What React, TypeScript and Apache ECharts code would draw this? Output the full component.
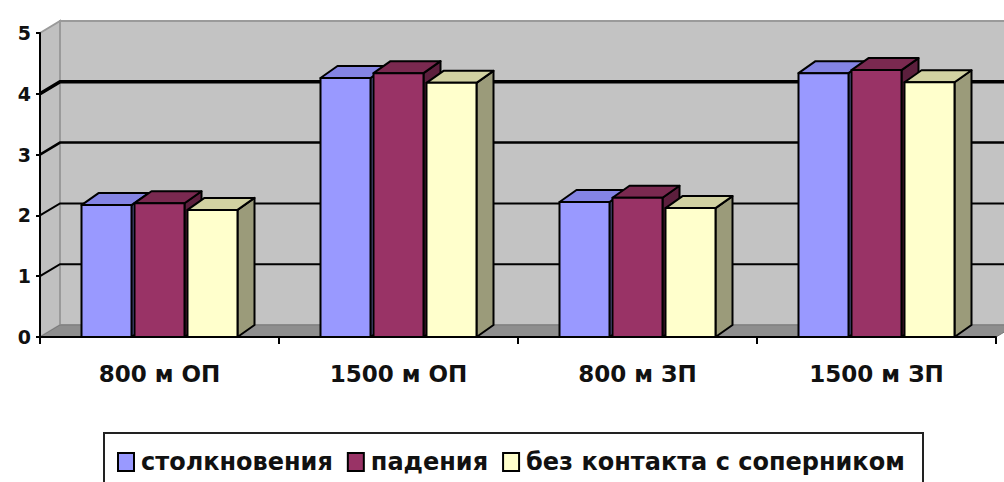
import React, { useEffect, useRef } from "react";
import * as echarts from "echarts";

const categories = ["800 м ОП", "1500 м ОП", "800 м ЗП", "1500 м ЗП"];
const seriesNames = ["столкновения", "падения", "без контакта с соперником"];
const collisions = [2.17, 4.26, 2.22, 4.34];
const falls = [2.2, 4.34, 2.29, 4.39];
const noContact = [2.09, 4.18, 2.12, 4.19];
const yTicks = [0, 1, 2, 3, 4, 5];

const faceColors = [
  { front: "#9999ff", top: "#8484e4", side: "#6b6bb3" },
  { front: "#993366", top: "#7a2950", side: "#5c1f3d" },
  { front: "#ffffcc", top: "#d2d2a2", side: "#9b9b7a" },
];

const WALL_DX = 20;
const WALL_DY = -12;
const BAR_DX = 17;
const BAR_DY = -12;
const FONT = "'DejaVu Sans', Verdana, sans-serif";

export default function App() {
  const ref = useRef<HTMLDivElement>(null);

  useEffect(() => {
    if (!ref.current) return;
    const chart = echarts.init(ref.current, null, { renderer: "svg" });
    const allValues = [collisions, falls, noContact];

    const wallSeries: any = {
      type: "custom",
      name: "_walls",
      silent: true,
      z: 1,
      data: [[0, 0]],
      renderItem: (params: any, api: any) => {
        const cs = params.coordSys;
        const x = cs.x, y = cs.y, w = cs.width, h = cs.height;
        const children: any[] = [];
        children.push({
          type: "rect",
          shape: { x: x + WALL_DX, y: y + WALL_DY, width: w, height: h },
          style: { fill: "#c3c3c3", stroke: "#9a9a9a", lineWidth: 2 },
        });
        children.push({
          type: "polygon",
          shape: {
            points: [
              [x, y],
              [x + WALL_DX, y + WALL_DY],
              [x + WALL_DX, y + h + WALL_DY],
              [x, y + h],
            ],
          },
          style: { fill: "#c0c0c0", stroke: "#9a9a9a", lineWidth: 2 },
        });
        children.push({
          type: "polygon",
          shape: {
            points: [
              [x, y + h],
              [x + WALL_DX, y + h + WALL_DY],
              [x + w + WALL_DX, y + h + WALL_DY],
              [x + w, y + h],
            ],
          },
          style: { fill: "#8e8e8e", stroke: "#7a7a7a", lineWidth: 1 },
        });
        const widths = [0, 2, 2, 2.5, 3.5];
        yTicks.forEach((t) => {
          if (t === 0 || t === 5) return;
          const p = api.coord([0, t]);
          const yy = p[1];
          children.push({
            type: "polyline",
            shape: {
              points: [
                [x, yy],
                [x + WALL_DX, yy + WALL_DY],
                [x + w + WALL_DX, yy + WALL_DY],
              ],
            },
            style: { fill: null, stroke: "#000", lineWidth: widths[t] },
          });
        });
        return { type: "group", children };
      },
    };

    const offsets = [-53, 0, 53];
    const barSeries = allValues.map((vals, si) => ({
      type: "custom",
      name: seriesNames[si],
      z: 2 + si,
      itemStyle: { color: faceColors[si].front, borderColor: "#000", borderWidth: 2 },
      data: vals.map((v, i) => [i, v]),
      encode: { x: 0, y: 1 },
      renderItem: (params: any, api: any) => {
        const cat = api.value(0);
        const val = api.value(1);
        const base = api.coord([cat, 0]);
        const top = api.coord([cat, val]);
        const bandW = api.size([1, 0])[0];
        const sc = bandW / 239;
        const bw = 50 * sc;
        const cx = base[0] + offsets[si] * sc;
        const x0 = cx - bw / 2;
        const x1 = cx + bw / 2;
        const yb = base[1];
        const yt = top[1];
        const c = faceColors[si];
        const stroke = { stroke: "#000", lineWidth: 2, lineJoin: "round" };
        return {
          type: "group",
          children: [
            {
              type: "polygon",
              shape: {
                points: [
                  [x1, yt],
                  [x1 + BAR_DX, yt + BAR_DY],
                  [x1 + BAR_DX, yb + BAR_DY],
                  [x1, yb],
                ],
              },
              style: { fill: c.side, ...stroke },
            },
            {
              type: "polygon",
              shape: {
                points: [
                  [x0, yt],
                  [x0 + BAR_DX, yt + BAR_DY],
                  [x1 + BAR_DX, yt + BAR_DY],
                  [x1, yt],
                ],
              },
              style: { fill: c.top, ...stroke },
            },
            {
              type: "rect",
              shape: { x: x0, y: yt, width: bw, height: yb - yt },
              style: { fill: c.front, ...stroke },
            },
          ],
        };
      },
    }));

    chart.setOption({
      animation: false,
      backgroundColor: "#ffffff",
      textStyle: { fontFamily: FONT },
      grid: { left: 40, right: 8, top: 33, bottom: 145, containLabel: false },
      xAxis: {
        type: "category",
        data: categories,
        z: 10,
        axisLine: { show: true, lineStyle: { color: "#000", width: 2 } },
        axisTick: { show: true, alignWithLabel: false, length: 7, lineStyle: { color: "#000", width: 2 } },
        axisLabel: {
          color: "#111",
          fontSize: 23,
          fontWeight: "bold",
          fontFamily: FONT,
          margin: 25,
        },
        splitLine: { show: false },
      },
      yAxis: {
        type: "value",
        min: 0,
        max: 5,
        interval: 1,
        z: 10,
        axisLine: { show: true, lineStyle: { color: "#000", width: 2 } },
        axisTick: { show: true, length: 4, lineStyle: { color: "#000", width: 2 } },
        axisLabel: {
          color: "#111",
          fontSize: 19,
          fontWeight: "bold",
          fontFamily: FONT,
          margin: 9,
        },
        splitLine: { show: false },
      },
      legend: {
        left: 112,
        top: 445,
        data: seriesNames,
        icon: "rect",
        itemWidth: 16,
        itemHeight: 18,
        itemGap: 14,
        textStyle: { color: "#111", fontSize: 24, fontWeight: "bold", fontFamily: FONT, padding: [0, 0, 0, 2] },
        itemStyle: { borderColor: "#000", borderWidth: 2 },
        selectedMode: false,
      },
      graphic: [
        {
          type: "rect",
          left: 103,
          top: 432,
          shape: { width: 819, height: 60 },
          style: { fill: "#fff", stroke: "#222", lineWidth: 2 },
          z: -1,
        },
      ],
      series: [wallSeries, ...barSeries],
    });

    return () => chart.dispose();
  }, []);

  return (
    <div
      ref={ref}
      style={{ position: "fixed", left: 0, top: 0, width: 1004, height: 482 }}
    />
  );
}
